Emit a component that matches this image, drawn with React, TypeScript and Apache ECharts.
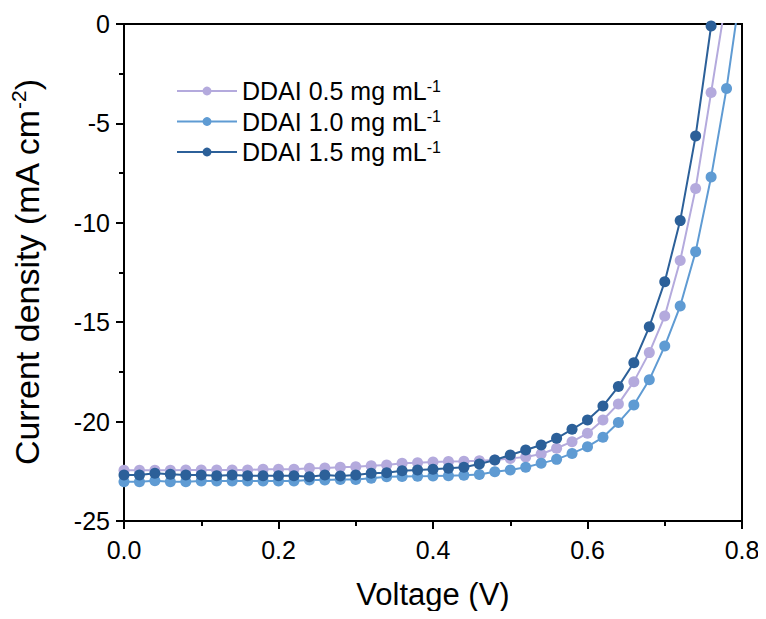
import React, { useEffect, useRef } from "react";
import * as echarts from "echarts";

const voltage = [
  0.0, 0.02, 0.04, 0.06, 0.08, 0.1, 0.12, 0.14, 0.16, 0.18, 0.2, 0.22, 0.24, 0.26, 0.28, 0.3,
  0.32, 0.34, 0.36, 0.38, 0.4, 0.42, 0.44, 0.46, 0.48, 0.5, 0.52, 0.54, 0.56, 0.58, 0.6, 0.62,
  0.64, 0.66, 0.68, 0.7, 0.72, 0.74, 0.76, 0.78, 0.8,
];

const seriesNames = ["DDAI 0.5 mg mL", "DDAI 1.0 mg mL", "DDAI 1.5 mg mL"];

const j05 = [
  -22.45, -22.45, -22.45, -22.45, -22.43, -22.43, -22.43, -22.43, -22.43, -22.4, -22.4, -22.4,
  -22.35, -22.33, -22.3, -22.27, -22.22, -22.18, -22.1, -22.07, -22.03, -22.01, -22.0, -21.97,
  -21.93, -21.85, -21.78, -21.63, -21.34, -21.01, -20.59, -19.92, -19.11, -17.99, -16.53,
  -14.69, -11.9, -8.27, -3.45, 1.4,
];

const j10 = [
  -23.02, -23.02, -22.97, -23.02, -23.02, -22.99, -22.99, -22.99, -22.99, -22.99, -22.99,
  -22.99, -22.94, -22.94, -22.91, -22.91, -22.85, -22.77, -22.76, -22.75, -22.74, -22.72,
  -22.7, -22.66, -22.52, -22.43, -22.3, -22.1, -21.9, -21.6, -21.26, -20.79, -20.05, -19.17,
  -17.9, -16.2, -14.19, -11.45, -7.7, -3.24, 2.2,
];

const j15 = [
  -22.69, -22.69, -22.6, -22.65, -22.69, -22.69, -22.72, -22.69, -22.72, -22.72, -22.72,
  -22.72, -22.77, -22.69, -22.74, -22.69, -22.6, -22.57, -22.47, -22.43, -22.4, -22.35, -22.3,
  -22.13, -21.93, -21.68, -21.43, -21.18, -20.84, -20.39, -19.92, -19.22, -18.24, -17.04,
  -15.23, -12.96, -9.89, -5.63, -0.1,
];

const yTicks = [0, -5, -10, -15, -20, -25];
const colors = ["#b4aadd", "#5f9bd3", "#2c6099"];

const FONT = "'Liberation Sans', Arial, sans-serif";

function pairs(vals: number[]) {
  return vals.map((v, i) => [voltage[i], v]);
}

export default function App() {
  const ref = useRef<HTMLDivElement>(null);
  useEffect(() => {
    if (!ref.current) return;
    const chart = echarts.init(ref.current, undefined, { renderer: "svg" });
    const allSeries = [j05, j10, j15];
    chart.setOption({
      animation: false,
      backgroundColor: "#ffffff",
      textStyle: { fontFamily: FONT },
      grid: {
        left: 124,
        right: 24,
        top: 24,
        bottom: 98,
        show: true,
        borderColor: "#000",
        borderWidth: 2,
      },
      legend: {
        orient: "vertical",
        left: 171,
        top: 73,
        itemWidth: 60,
        itemHeight: 11,
        itemGap: 5,
        data: seriesNames,
        formatter: (n: string) => `{a|${n}}{s|-1}`,
        textStyle: {
          color: "#000",
          fontFamily: FONT,
          rich: {
            a: { fontSize: 25, lineHeight: 26, color: "#000", fontFamily: FONT },
            s: { fontSize: 16, verticalAlign: "top", color: "#000", fontFamily: FONT },
          },
        },
      },
      xAxis: {
        type: "value",
        min: 0,
        max: 0.8,
        interval: 0.2,
        name: "Voltage (V)",
        nameLocation: "middle",
        nameGap: 58,
        nameTextStyle: { fontSize: 31, color: "#000", fontFamily: FONT },
        axisLine: { show: true, onZero: false, lineStyle: { color: "#000", width: 2 } },
        axisTick: { show: true, inside: false, length: 8, lineStyle: { color: "#000", width: 2 } },
        minorTick: { show: true, splitNumber: 2, length: 5, lineStyle: { color: "#000", width: 2 } },
        splitLine: { show: false },
        axisLabel: {
          fontSize: 25,
          color: "#000",
          margin: 16,
          fontFamily: FONT,
          formatter: (v: number) => v.toFixed(1),
        },
      },
      yAxis: {
        type: "value",
        min: -25,
        max: 0,
        interval: 5,
        name: "{a|Current density (mA cm}{s|-2}{a|)}",
        nameLocation: "middle",
        nameRotate: 90,
        nameGap: 78,
        nameTextStyle: {
          color: "#000",
          fontFamily: FONT,
          rich: {
            a: { fontSize: 34, lineHeight: 38, color: "#000", fontFamily: FONT },
            s: { fontSize: 21, verticalAlign: "top", color: "#000", fontFamily: FONT },
          },
        },
        axisLine: { show: true, onZero: false, lineStyle: { color: "#000", width: 2 } },
        axisTick: { show: true, inside: false, length: 8, lineStyle: { color: "#000", width: 2 } },
        minorTick: { show: true, splitNumber: 2, length: 5, lineStyle: { color: "#000", width: 2 } },
        splitLine: { show: false },
        axisLabel: {
          fontSize: 25,
          color: "#000",
          margin: 14,
          fontFamily: FONT,
          formatter: (v: number) => (yTicks.includes(v) ? String(v) : ""),
        },
      },
      series: seriesNames.map((name, i) => ({
        name,
        type: "line",
        data: pairs(allSeries[i]),
        color: colors[i],
        symbol: "circle",
        symbolSize: 11,
        showAllSymbol: true,
        clip: true,
        lineStyle: { width: 2, color: colors[i] },
        itemStyle: { color: colors[i] },
        z: 2 + i,
      })),
    });
    return () => chart.dispose();
  }, []);
  return <div ref={ref} style={{ width: 766, height: 619, margin: -8 }} />;
}
